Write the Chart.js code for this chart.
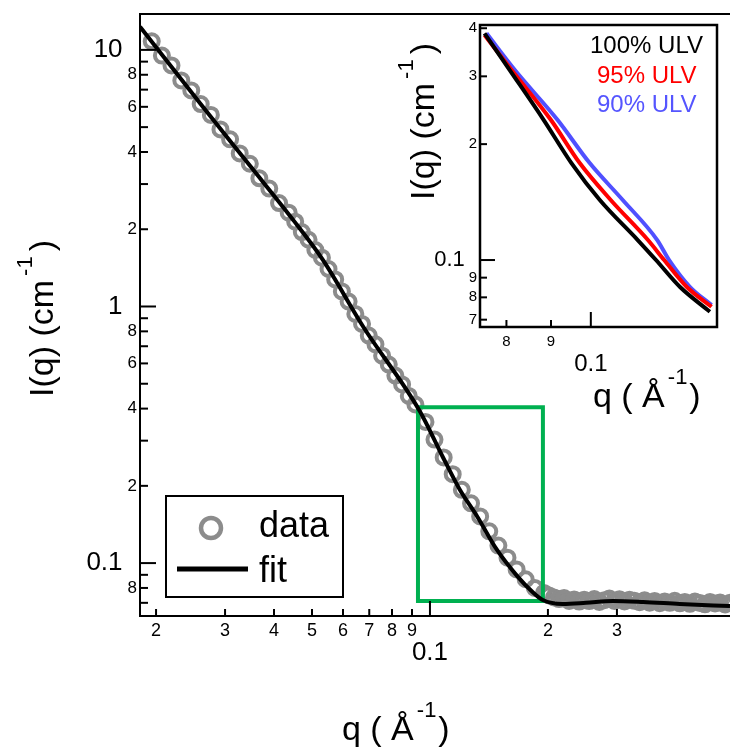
<!DOCTYPE html>
<html><head><meta charset="utf-8">
<script src="https://cdn.jsdelivr.net/npm/chart.js@4.4.1/dist/chart.umd.min.js"></script>
<style>
html,body{margin:0;padding:0;background:#fff;}
#wrap{position:relative;width:730px;height:748px;overflow:hidden;background:#fff;}
#main{position:absolute;left:0;top:0;}
#inset{position:absolute;left:395px;top:0;}
</style></head><body>
<div id="wrap"><canvas id="main" width="730" height="748"></canvas><canvas id="inset" width="335" height="420"></canvas></div>
<script>
const FONT = "'Liberation Sans', Arial, Helvetica, sans-serif";

// ---------- main chart data ----------
const dataQ = [0.0195,0.0207,0.0219,0.0232,0.0246,0.0260,0.0276,0.0292,0.0309,0.0327,0.0347,0.0367,0.0389,0.0412,0.0436,
  0.0453,0.0471,0.0490,0.0510,0.0530,0.0551,0.0573,0.0596,0.0620,0.0645,0.0671,0.0698,0.0726,0.0755,0.0785,0.0816,
  0.0849,0.0883,0.0918,0.0974,0.1027,
  0.1084,0.1143,0.1206,0.1273,0.1343,0.1417,0.1495,0.1577,0.1664,0.1755,0.1852,0.1954,
  0.2013,0.2073,0.2135,0.2199,0.2265,0.2333,0.2403,0.2475,0.2549,0.2626,0.2705,0.2786,0.2870,0.2956,0.3044,0.3136,
  0.3230,0.3327,0.3427,0.3529,0.3635,0.3744,0.3857,0.3972,0.4092,0.4214,0.4341,0.4471,0.4605,0.4744,0.4886,0.5033,
  0.5184,0.5339,0.5499,0.5664,0.5834];
const dataI = [10.8,9.5,8.7,7.6,6.95,6.15,5.58,4.9,4.48,3.95,3.6,3.16,2.88,2.53,2.32,
  2.14,1.95,1.82,1.66,1.55,1.40,1.275,1.145,1.045,0.935,0.855,0.770,0.712,0.643,0.594,0.538,
  0.497,0.448,0.415,0.355,0.303,
  0.258,0.222,0.193,0.171,0.152,0.133,0.117,0.105,0.0945,0.0865,0.080,0.0765,
  0.0748,0.0735,0.0724,0.0731,0.0712,0.0722,0.0708,0.0719,0.0711,0.0724,0.0706,0.0717,0.0727,0.0712,0.0723,0.0709,
  0.0720,0.0713,0.0704,0.0716,0.0701,0.0712,0.0698,0.0709,0.0700,0.0713,0.0697,0.0706,0.0694,0.0708,0.0699,0.0691,
  0.0705,0.0696,0.0702,0.0690,0.0700];
const fitQ = [0.0182,0.0259,0.0347,0.0447,0.0533,0.0675,0.0943,0.108,0.119,0.132,0.148,0.167,0.183,0.194,0.218,0.25,0.293,0.35,0.434,0.583];
const fitI = [12.3,6.2,3.54,2.18,1.52,0.836,0.39,0.258,0.194,0.152,0.113,0.089,0.077,0.0718,0.0693,0.0700,0.0711,0.0705,0.0693,0.0680];
const zoomBoxQ = [0.0932, 0.1942];
const zoomBoxI = [0.0711, 0.405];
const mainXTicks = [0.02,0.03,0.04,0.05,0.06,0.07,0.08,0.09,0.1,0.2,0.3];
const mainXLabels = ['2','3','4','5','6','7','8','9','0.1','2','3'];
const mainYTicks = [0.07,0.08,0.09,0.1,0.2,0.3,0.4,0.5,0.6,0.7,0.8,0.9,1,2,3,4,5,6,7,8,9,10];
const mainYLabels = ['','8','','0.1  ','2','','4','','6','','8','','1  ','2','','4','','6','','8','','10  '];
const legendLabels = ['data','fit'];

// ---------- inset data ----------
const insetQ100 = [0.0755,0.0807,0.0883,0.0950,0.1024,0.1132,0.1188,0.1266,0.1370];
const insetI100 = [0.388,0.3115,0.231,0.1786,0.1432,0.1127,0.100,0.0851,0.0734];
const insetQ95  = [0.0755,0.0811,0.0900,0.0971,0.1054,0.1163,0.1214,0.1289,0.1376];
const insetI95  = [0.384,0.3115,0.231,0.1786,0.1432,0.1127,0.100,0.0851,0.0756];
const insetQ90  = [0.0759,0.0818,0.0916,0.0997,0.1088,0.1192,0.1230,0.1300,0.1376];
const insetI90  = [0.388,0.3115,0.231,0.1786,0.1432,0.1127,0.100,0.0851,0.0764];
const insetSeriesNames = ['100% ULV','95% ULV','90% ULV'];
const insetXTicks = [0.08,0.09,0.1];
const insetXLabels = ['8','9','0.1'];
const insetYTicks = [0.07,0.08,0.09,0.1,0.2,0.3,0.4];
const insetYLabels = ['7','8','9','0.1  ','2','3','4'];

const pts = (xs, ys) => xs.map((x, i) => ({x, y: ys[i]}));
const isMajor = v => Math.abs(Math.log10(v) - Math.round(Math.log10(v))) < 1e-9;

function logAxis(o) {
  return {
    type: 'logarithmic', position: o.position, min: o.min, max: o.max, bounds: 'data',
    grid: {display: false, drawTicks: false, tickLength: 0}, border: {display: false},
    afterDataLimits: s => { s.min = o.min; s.max = o.max; },
    afterBuildTicks: s => { s.ticks = o.ticks.map(v => ({value: v})); s.min = o.min; s.max = o.max; },
    afterFit: s => {
      if (o.width != null) s.width = o.width;
      if (o.height != null) s.height = o.height;
      s.paddingTop = 0; s.paddingBottom = 0; s.paddingLeft = 0; s.paddingRight = 0;
    },
    ticks: {
      autoSkip: false, maxRotation: 0, minRotation: 0, padding: o.pad, color: '#000',
      callback: (v, i) => o.labels[i],
      font: c => (c.tick && isMajor(c.tick.value)) ? o.majorFont : o.minorFont
    }
  };
}

function drawTicks(ctx, chart, o) {
  const a = chart.chartArea, xs = chart.scales.x, ys = chart.scales.y;
  ctx.lineWidth = o.w; ctx.strokeStyle = '#000';
  xs.ticks.forEach(t => {
    const px = xs.getPixelForValue(t.value);
    const len = isMajor(t.value) ? o.xMaj : o.xMin;
    ctx.beginPath(); ctx.moveTo(px, a.bottom); ctx.lineTo(px, a.bottom - len); ctx.stroke();
  });
  ys.ticks.forEach(t => {
    const py = ys.getPixelForValue(t.value);
    const len = isMajor(t.value) ? o.yMaj : o.yMin;
    ctx.beginPath(); ctx.moveTo(a.left, py); ctx.lineTo(a.left + len, py); ctx.stroke();
  });
}

function drawXTitle(ctx, x, y) {
  ctx.textAlign = 'left'; ctx.textBaseline = 'alphabetic'; ctx.fillStyle = '#000';
  ctx.font = '34px ' + FONT;
  const t1 = 'q ( \u00C5';
  ctx.fillText(t1, x, y);
  const w1 = ctx.measureText(t1).width;
  ctx.font = '22px ' + FONT;
  ctx.fillText('-1', x + w1 + 3, y - 23);
  const w2 = ctx.measureText('-1').width;
  ctx.font = '34px ' + FONT;
  ctx.fillText(')', x + w1 + w2 + 5, y);
}
function drawYTitle(ctx, x, y) {
  ctx.save();
  ctx.translate(x, y); ctx.rotate(-Math.PI / 2);
  ctx.textAlign = 'left'; ctx.textBaseline = 'alphabetic'; ctx.fillStyle = '#000';
  ctx.font = '34px ' + FONT;
  const t1 = 'I(q) (cm';
  ctx.fillText(t1, 0, 0);
  const w1 = ctx.measureText(t1).width;
  ctx.font = '22px ' + FONT;
  ctx.fillText('-1', w1 + 4, -21);
  const w2 = ctx.measureText('-1').width;
  ctx.font = '34px ' + FONT;
  ctx.fillText(')', w1 + w2 + 9, 0);
  ctx.restore();
}

const GRAY = '#8c8c8c';
const GREEN = '#00b050';

const mainDecor = {
  id: 'mainDecor',
  afterDraw(chart) {
    const ctx = chart.ctx, a = chart.chartArea;
    ctx.save();
    ctx.strokeStyle = '#000'; ctx.lineWidth = 2;
    ctx.beginPath();
    ctx.moveTo(a.right, a.top); ctx.lineTo(a.left, a.top); ctx.lineTo(a.left, a.bottom); ctx.lineTo(a.right, a.bottom);
    ctx.stroke();
    drawTicks(ctx, chart, {w: 2, xMaj: 15, xMin: 7, yMaj: 16, yMin: 8});
    // legend
    ctx.fillStyle = '#fff';
    ctx.lineWidth = 2; ctx.strokeStyle = '#000';
    ctx.fillRect(166, 496, 177, 101);
    ctx.strokeRect(166, 496, 177, 101);
    ctx.beginPath(); ctx.arc(211, 528, 10, 0, Math.PI * 2);
    ctx.lineWidth = 4.5; ctx.strokeStyle = GRAY; ctx.stroke();
    ctx.beginPath(); ctx.moveTo(177, 569); ctx.lineTo(248, 569);
    ctx.lineWidth = 5; ctx.strokeStyle = '#000'; ctx.stroke();
    ctx.fillStyle = '#000'; ctx.font = '36px ' + FONT;
    ctx.textAlign = 'left'; ctx.textBaseline = 'alphabetic';
    ctx.fillText(legendLabels[0], 259, 537);
    ctx.fillText(legendLabels[1], 259, 582);
    drawXTitle(ctx, 342, 740);
    drawYTitle(ctx, 53, 397);
    ctx.restore();
  }
};

new Chart(document.getElementById('main'), {
  type: 'scatter',
  data: {
    datasets: [
      {label: 'fit', data: pts(fitQ, fitI), showLine: true, borderColor: '#000', borderWidth: 4,
       pointRadius: 0, cubicInterpolationMode: 'monotone', order: 0},
      {label: 'zoom', data: pts([zoomBoxQ[0], zoomBoxQ[1], zoomBoxQ[1], zoomBoxQ[0], zoomBoxQ[0]],
                                 [zoomBoxI[1], zoomBoxI[1], zoomBoxI[0], zoomBoxI[0], zoomBoxI[1]]),
       showLine: true, borderColor: GREEN, borderWidth: 4, pointRadius: 0, tension: 0, order: 1},
      {label: 'data', data: pts(dataQ, dataI), showLine: false, pointRadius: 7, pointBorderWidth: 4,
       pointBorderColor: GRAY, pointBackgroundColor: 'rgba(0,0,0,0)', order: 2}
    ]
  },
  options: {
    responsive: false, animation: false, events: [], devicePixelRatio: 1,
    layout: {autoPadding: false, padding: {top: 14, right: 0, left: 0, bottom: 0}},
    plugins: {legend: {display: false}, tooltip: {enabled: false}},
    scales: {
      x: logAxis({position: 'bottom', min: 0.0182, max: 0.583, ticks: mainXTicks, labels: mainXLabels,
        height: 132, pad: 4,
        minorFont: {family: FONT, size: 18, lineHeight: 1.2},
        majorFont: {family: FONT, size: 26, lineHeight: 2.54}}),
      y: logAxis({position: 'left', min: 0.0622, max: 13.8, ticks: mainYTicks, labels: mainYLabels,
        width: 140, pad: 3,
        minorFont: {family: FONT, size: 17, lineHeight: 1.2},
        majorFont: {family: FONT, size: 26, lineHeight: 1.2}})
    }
  },
  plugins: [mainDecor]
});

const insetDecor = {
  id: 'insetDecor',
  beforeDatasetsDraw(chart) {
    const ctx = chart.ctx, a = chart.chartArea;
    ctx.save(); ctx.fillStyle = '#fff';
    ctx.fillRect(a.left, a.top, a.right - a.left, a.bottom - a.top);
    ctx.restore();
  },
  afterDraw(chart) {
    const ctx = chart.ctx, a = chart.chartArea;
    ctx.save();
    ctx.strokeStyle = '#000'; ctx.lineWidth = 2.5;
    ctx.strokeRect(a.left, a.top, a.right - a.left, a.bottom - a.top);
    drawTicks(ctx, chart, {w: 2, xMaj: 15, xMin: 7, yMaj: 15, yMin: 7});
    ctx.textAlign = 'left'; ctx.textBaseline = 'alphabetic';
    ctx.font = '24px ' + FONT;
    ctx.fillStyle = '#000'; ctx.fillText(insetSeriesNames[0], 590 - 395, 53);
    ctx.fillStyle = '#ff0000'; ctx.fillText(insetSeriesNames[1], 597 - 395, 83);
    ctx.fillStyle = '#5555ff'; ctx.fillText(insetSeriesNames[2], 597 - 395, 112);
    drawXTitle(ctx, 593 - 395, 407);
    drawYTitle(ctx, 434 - 395, 200);
    ctx.restore();
  }
};

new Chart(document.getElementById('inset'), {
  type: 'scatter',
  data: {
    datasets: [
      {label: insetSeriesNames[0], data: pts(insetQ100, insetI100), showLine: true, borderColor: '#000',
       borderWidth: 4, pointRadius: 0, cubicInterpolationMode: 'monotone', order: 0},
      {label: insetSeriesNames[1], data: pts(insetQ95, insetI95), showLine: true, borderColor: '#ff0000',
       borderWidth: 4, pointRadius: 0, cubicInterpolationMode: 'monotone', order: 1},
      {label: insetSeriesNames[2], data: pts(insetQ90, insetI90), showLine: true, borderColor: '#5050ff',
       borderWidth: 4, pointRadius: 0, cubicInterpolationMode: 'monotone', order: 2}
    ]
  },
  options: {
    responsive: false, animation: false, events: [], devicePixelRatio: 1,
    layout: {autoPadding: false, padding: {top: 25, right: 13, left: 0, bottom: 0}},
    plugins: {legend: {display: false}, tooltip: {enabled: false}},
    scales: {
      x: logAxis({position: 'bottom', min: 0.0746, max: 0.1396, ticks: insetXTicks, labels: insetXLabels,
        height: 93, pad: 6,
        minorFont: {family: FONT, size: 15, lineHeight: 1.2},
        majorFont: {family: FONT, size: 24, lineHeight: 2.58}}),
      y: logAxis({position: 'left', min: 0.067, max: 0.4078, ticks: insetYTicks, labels: insetYLabels,
        width: 85, pad: 3,
        minorFont: {family: FONT, size: 15, lineHeight: 1.2},
        majorFont: {family: FONT, size: 22, lineHeight: 1.2}})
    }
  },
  plugins: [insetDecor]
});
</script>
</body></html>
